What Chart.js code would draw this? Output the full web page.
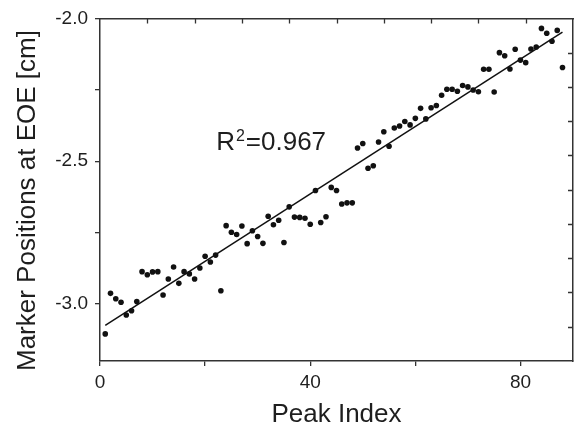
<!DOCTYPE html>
<html>
<head>
<meta charset="utf-8">
<script src="https://cdn.jsdelivr.net/npm/chart.js@4.4.1/dist/chart.umd.min.js"></script>
<style>
  html, body { margin: 0; padding: 0; background: #fff; }
  #wrap { width: 588px; height: 434px; }
</style>
</head>
<body>
<div id="wrap"><canvas id="c" width="588" height="434"></canvas></div>
<script>
// ---- data ----
const peakIndex = [1,2,3,4,5,6,7,8,9,10,11,12,13,14,15,16,17,18,19,20,21,22,23,24,25,26,27,28,29,30,
  31,32,33,34,35,36,37,38,39,40,41,42,43,44,45,46,47,48,49,50,51,52,53,54,55,56,57,58,59,60,
  61,62,63,64,65,66,67,68,69,70,71,72,73,74,75,76,77,78,79,80,81,82,83,84,85,86,87,88];
const markerPos = [-3.105,-2.963,-2.982,-2.994,-3.039,-3.024,-2.992,-2.887,-2.898,-2.888,
  -2.887,-2.969,-2.913,-2.871,-2.928,-2.887,-2.895,-2.913,-2.874,-2.833,
  -2.853,-2.829,-2.954,-2.726,-2.749,-2.757,-2.727,-2.789,-2.744,-2.764,
  -2.788,-2.693,-2.723,-2.707,-2.785,-2.660,-2.696,-2.697,-2.700,-2.721,
  -2.603,-2.715,-2.695,-2.592,-2.603,-2.650,-2.646,-2.646,-2.454,-2.438,
  -2.525,-2.516,-2.433,-2.397,-2.448,-2.384,-2.377,-2.361,-2.373,-2.350,
  -2.315,-2.352,-2.313,-2.305,-2.269,-2.248,-2.248,-2.255,-2.235,-2.240,
  -2.251,-2.257,-2.178,-2.178,-2.258,-2.120,-2.131,-2.177,-2.108,-2.146,
  -2.155,-2.107,-2.100,-2.035,-2.052,-2.080,-2.042,-2.172];
const fitX = [1, 88];
const fitY = [-3.075, -2.048];
const r2Label = '0.967';

const xTicks = [0, 20, 40, 60, 80];
const xTickLabels = ['0', '', '40', '', '80'];
const yTicks = [-3.0, -2.75, -2.5, -2.25, -2.0];
const yTickLabels = ['-3.0', '', '-2.5', '', '-2.0'];
const xTopTicks = [9, 18, 27, 36, 45, 54, 63, 72, 81];
const yRightTicks = [-3.08, -2.96, -2.84, -2.72, -2.60, -2.48, -2.36, -2.24, -2.12];

// ---- chart ----
const FONT = '"Liberation Sans", Arial, Helvetica, sans-serif';
const AXIS = '#333333';
const TEXT = '#1e1e1e';

const scatterPts = peakIndex.map((x, i) => ({ x: x, y: markerPos[i] }));
const fitPts = fitX.map((x, i) => ({ x: x, y: fitY[i] }));

const innerTicks = {
  id: 'innerTicks',
  afterDraw(chart) {
    const ctx = chart.ctx, a = chart.chartArea;
    const sx = chart.scales.x2, sy = chart.scales.y2;
    ctx.save();
    ctx.strokeStyle = AXIS;
    ctx.lineWidth = 1.3;
    ctx.beginPath();
    xTopTicks.forEach(v => {
      const p = Math.round(sx.getPixelForValue(v)) + 0.5;
      ctx.moveTo(p, a.top); ctx.lineTo(p, a.top + 5);
    });
    yRightTicks.forEach(v => {
      const p = Math.round(sy.getPixelForValue(v)) + 0.5;
      ctx.moveTo(a.right, p); ctx.lineTo(a.right - 5, p);
    });
    ctx.stroke();
    ctx.restore();
  }
};

const r2Text = {
  id: 'r2Text',
  afterDatasetsDraw(chart) {
    const ctx = chart.ctx;
    const x0 = chart.scales.x.getPixelForValue(22.1);
    const y0 = chart.scales.y.getPixelForValue(-2.461);
    ctx.save();
    ctx.fillStyle = TEXT;
    ctx.textBaseline = 'alphabetic';
    ctx.textAlign = 'left';
    ctx.font = '26px ' + FONT;
    ctx.fillText('R', x0, y0);
    let x = x0 + ctx.measureText('R').width + 1;
    ctx.font = '16px ' + FONT;
    ctx.fillText('2', x, y0 - 9);
    x += ctx.measureText('2').width + 1;
    ctx.font = '26px ' + FONT;
    ctx.fillText('=' + r2Label, x, y0);
    ctx.restore();
  }
};

new Chart(document.getElementById('c'), {
  data: {
    datasets: [
      {
        type: 'scatter',
        data: scatterPts,
        xAxisID: 'x', yAxisID: 'y',
        pointRadius: 2.8,
        pointBorderWidth: 0,
        backgroundColor: '#111111',
        borderColor: '#111111'
      },
      {
        type: 'line',
        data: fitPts,
        xAxisID: 'x', yAxisID: 'y',
        borderColor: '#111111',
        borderWidth: 1.5,
        pointRadius: 0,
        fill: false,
        tension: 0
      }
    ]
  },
  options: {
    responsive: false,
    animation: false,
    devicePixelRatio: 1,
    layout: { padding: 0 },
    plugins: { legend: { display: false }, tooltip: { enabled: false } },
    scales: {
      x: {
        type: 'linear', position: 'bottom', min: 0, max: 90,
        afterBuildTicks: s => { s.ticks = xTicks.map(v => ({ value: v })); },
        afterFit: s => { s.height = 73; },
        ticks: {
          autoSkip: false, maxRotation: 0, padding: 5, color: TEXT,
          font: { family: FONT, size: 19 },
          callback: v => { const i = xTicks.indexOf(v); return i >= 0 ? xTickLabels[i] : ''; }
        },
        grid: { drawOnChartArea: false, drawTicks: true, tickLength: 5, color: AXIS, lineWidth: 1.3 },
        border: { display: true, color: AXIS, width: 1.5 },
        title: { display: true, text: 'Peak Index', color: TEXT,
                 font: { family: FONT, size: 26 }, padding: { top: 0, bottom: 4 } }
      },
      y: {
        type: 'linear', position: 'left', min: -3.2, max: -2.0,
        afterBuildTicks: s => { s.ticks = yTicks.map(v => ({ value: v })); },
        afterFit: s => { s.width = 100; },
        ticks: {
          autoSkip: false, padding: 7, color: TEXT,
          font: { family: FONT, size: 19 },
          callback: v => { const i = yTicks.findIndex(t => Math.abs(t - v) < 1e-9); return i >= 0 ? yTickLabels[i] : ''; }
        },
        grid: { drawOnChartArea: false, drawTicks: true, tickLength: 5, color: AXIS, lineWidth: 1.3 },
        border: { display: true, color: AXIS, width: 1.5 },
        title: { display: true, text: 'Marker Positions at EOE [cm]   ', color: TEXT,
                 font: { family: FONT, size: 26 }, padding: { top: 12, bottom: 0 } }
      },
      x2: {
        type: 'linear', position: 'top', min: 0, max: 90,
        afterBuildTicks: s => { s.ticks = xTopTicks.map(v => ({ value: v })); },
        afterFit: s => { s.height = 11; },
        ticks: { display: false },
        grid: { display: true, drawOnChartArea: false, drawTicks: false, color: AXIS },
        border: { display: true, color: AXIS, width: 1.5 }
      },
      y2: {
        type: 'linear', position: 'right', min: -3.2, max: -2.0,
        afterBuildTicks: s => { s.ticks = yRightTicks.map(v => ({ value: v })); },
        afterFit: s => { s.width = 15; },
        ticks: { display: false },
        grid: { display: true, drawOnChartArea: false, drawTicks: false, color: AXIS },
        border: { display: true, color: AXIS, width: 1.5 }
      }
    }
  },
  plugins: [innerTicks, r2Text]
});
</script>
</body>
</html>
